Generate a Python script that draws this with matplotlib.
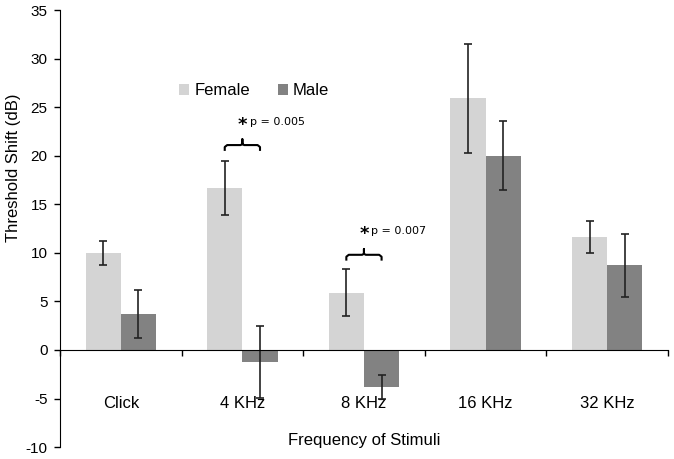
import numpy as np
import matplotlib
matplotlib.use("Agg")
import matplotlib.pyplot as plt

plt.rcParams['font.family'] = ['Liberation Sans', 'DejaVu Sans']
plt.rcParams['axes.unicode_minus'] = False

# data
categories = ['Click', '4 KHz', '8 KHz', '16 KHz', '32 KHz']
female = [10.0, 16.7, 5.9, 25.9, 11.6]
female_err = [1.25, 2.8, 2.4, 5.6, 1.65]
male = [3.7, -1.2, -3.8, 20.0, 8.7]
male_err = [2.45, 3.7, 1.2, 3.55, 3.2]
yticks = [-10, -5, 0, 5, 10, 15, 20, 25, 30, 35]

# significance brackets: (category index, bracket level, p-value text)
sig = [(1, 21.1, 'p = 0.005'), (2, 9.8, 'p = 0.007')]

fig = plt.figure(figsize=(6.74, 4.59), dpi=100)
ax = fig.add_axes([0.089, 0.026, 0.902, 0.952])

x = np.arange(len(categories))
w = 0.29
ax.bar(x - w / 2, female, w, color='#d4d4d4', label='Female', zorder=2)
ax.bar(x + w / 2, male, w, color='#828282', label='Male', zorder=2)
ax.errorbar(x - w / 2, female, yerr=female_err, fmt='none', ecolor='#222222',
            elinewidth=1.2, capsize=3.2, capthick=1.2, zorder=3)
ax.errorbar(x + w / 2, male, yerr=male_err, fmt='none', ecolor='#222222',
            elinewidth=1.2, capsize=3.2, capthick=1.2, zorder=3)

ax.set_xlim(-0.5, len(categories) - 0.5)
ax.set_ylim(-10, 35)
ax.set_yticks(yticks)
ax.tick_params(axis='y', labelsize=11, direction='out', length=4, width=1, pad=5)
ax.set_xticks(np.arange(len(categories) + 1) - 0.5)
ax.set_xticklabels([])
ax.tick_params(axis='x', direction='out', length=4, width=1)

ax.spines['top'].set_visible(False)
ax.spines['right'].set_visible(False)
ax.spines['bottom'].set_position(('data', 0))
ax.spines['bottom'].set_zorder(4)

for i, c in enumerate(categories):
    ax.text(i, -5.5, c, ha='center', va='center', fontsize=12, zorder=1)

ax.text(0.5, 0.016, 'Frequency of Stimuli', transform=ax.transAxes,
        ha='center', va='center', fontsize=12)
ax.set_ylabel('Threshold Shift (dB)', fontsize=12)
ax.yaxis.set_label_coords(-0.064, 0.64)

# curly brackets with star and p-value
for i, lvl, txt in sig:
    x0, x1 = i - w / 2, i + w / 2
    xm = i
    h = 0.6
    bx = [x0, x0, x0 + 0.02, xm - 0.015, xm, xm, xm, xm + 0.015, x1 - 0.02, x1, x1]
    by = [lvl - h, lvl - 0.2, lvl, lvl, lvl + 0.1, lvl + h, lvl + 0.1, lvl, lvl, lvl - 0.2, lvl - h]
    ax.plot(bx, by, color='black', lw=1.5, solid_capstyle='butt', zorder=3)
    ax.text(xm, lvl + 2.1, '*', ha='center', va='center', fontsize=13,
            fontweight='bold', family='DejaVu Sans')
    ax.text(xm + 0.06, lvl + 2.4, txt, ha='left', va='center', fontsize=8,
            family='DejaVu Sans')

ax.legend(loc='center left', bbox_to_anchor=(0.196, 0.815), ncol=2, frameon=False,
          fontsize=12, handlelength=0.6, handleheight=0.6, handletextpad=0.3,
          columnspacing=1.7, borderpad=0, borderaxespad=0)

fig.savefig('out.png', dpi=100)
